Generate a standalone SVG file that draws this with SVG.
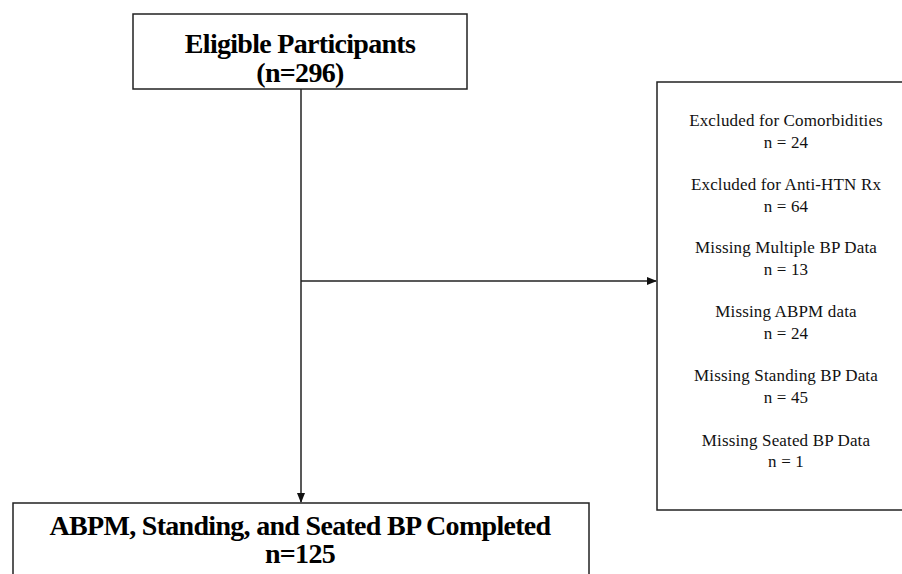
<svg xmlns="http://www.w3.org/2000/svg" width="902" height="574" viewBox="0 0 902 574">
<style>
.box{fill:#fff;stroke:#222;stroke-width:1.5}
.t{font-family:"Liberation Serif","Times New Roman",serif;font-weight:bold;font-size:28px;letter-spacing:-0.7px;fill:#000;text-anchor:middle}
.s{font-family:"Liberation Serif","Times New Roman",serif;font-size:17px;letter-spacing:0.15px;fill:#111;text-anchor:middle}
.c{stroke:#222;stroke-width:1.5;fill:none}
</style>
<defs>
<marker id="ah" markerWidth="10" markerHeight="8" refX="9" refY="4" orient="auto" markerUnits="userSpaceOnUse">
<path d="M0,0 L10,4 L0,8 Z" fill="#111"/>
</marker>
</defs>
<rect width="902" height="574" fill="#fff"/>
<g id="connectors">
<line class="c" x1="301" y1="89" x2="301" y2="502" marker-end="url(#ah)"/>
<line class="c" x1="301" y1="281" x2="656" y2="281" marker-end="url(#ah)"/>
</g>
<g id="eligible">
<rect class="box" x="133" y="14" width="334" height="75"/>
<text class="t" x="300" y="53">Eligible Participants</text>
<text class="t" x="300" y="82">(n=296)</text>
</g>
<g id="completed">
<rect class="box" x="13" y="503" width="576" height="84"/>
<text class="t" x="300" y="535">ABPM, Standing, and Seated BP Completed</text>
<text class="t" x="300" y="563">n=125</text>
</g>
<g id="excluded">
<rect class="box" x="657" y="82" width="260" height="428"/>
<text class="s" x="786" y="126">Excluded for Comorbidities</text>
<text class="s" x="786" y="148">n = 24</text>
<text class="s" x="786" y="190">Excluded for Anti-HTN Rx</text>
<text class="s" x="786" y="212">n = 64</text>
<text class="s" x="786" y="253">Missing Multiple BP Data</text>
<text class="s" x="786" y="275">n = 13</text>
<text class="s" x="786" y="317">Missing ABPM data</text>
<text class="s" x="786" y="339">n = 24</text>
<text class="s" x="786" y="381">Missing Standing BP Data</text>
<text class="s" x="786" y="403">n = 45</text>
<text class="s" x="786" y="446">Missing Seated BP Data</text>
<text class="s" x="786" y="467">n = 1</text>
</g>
</svg>
